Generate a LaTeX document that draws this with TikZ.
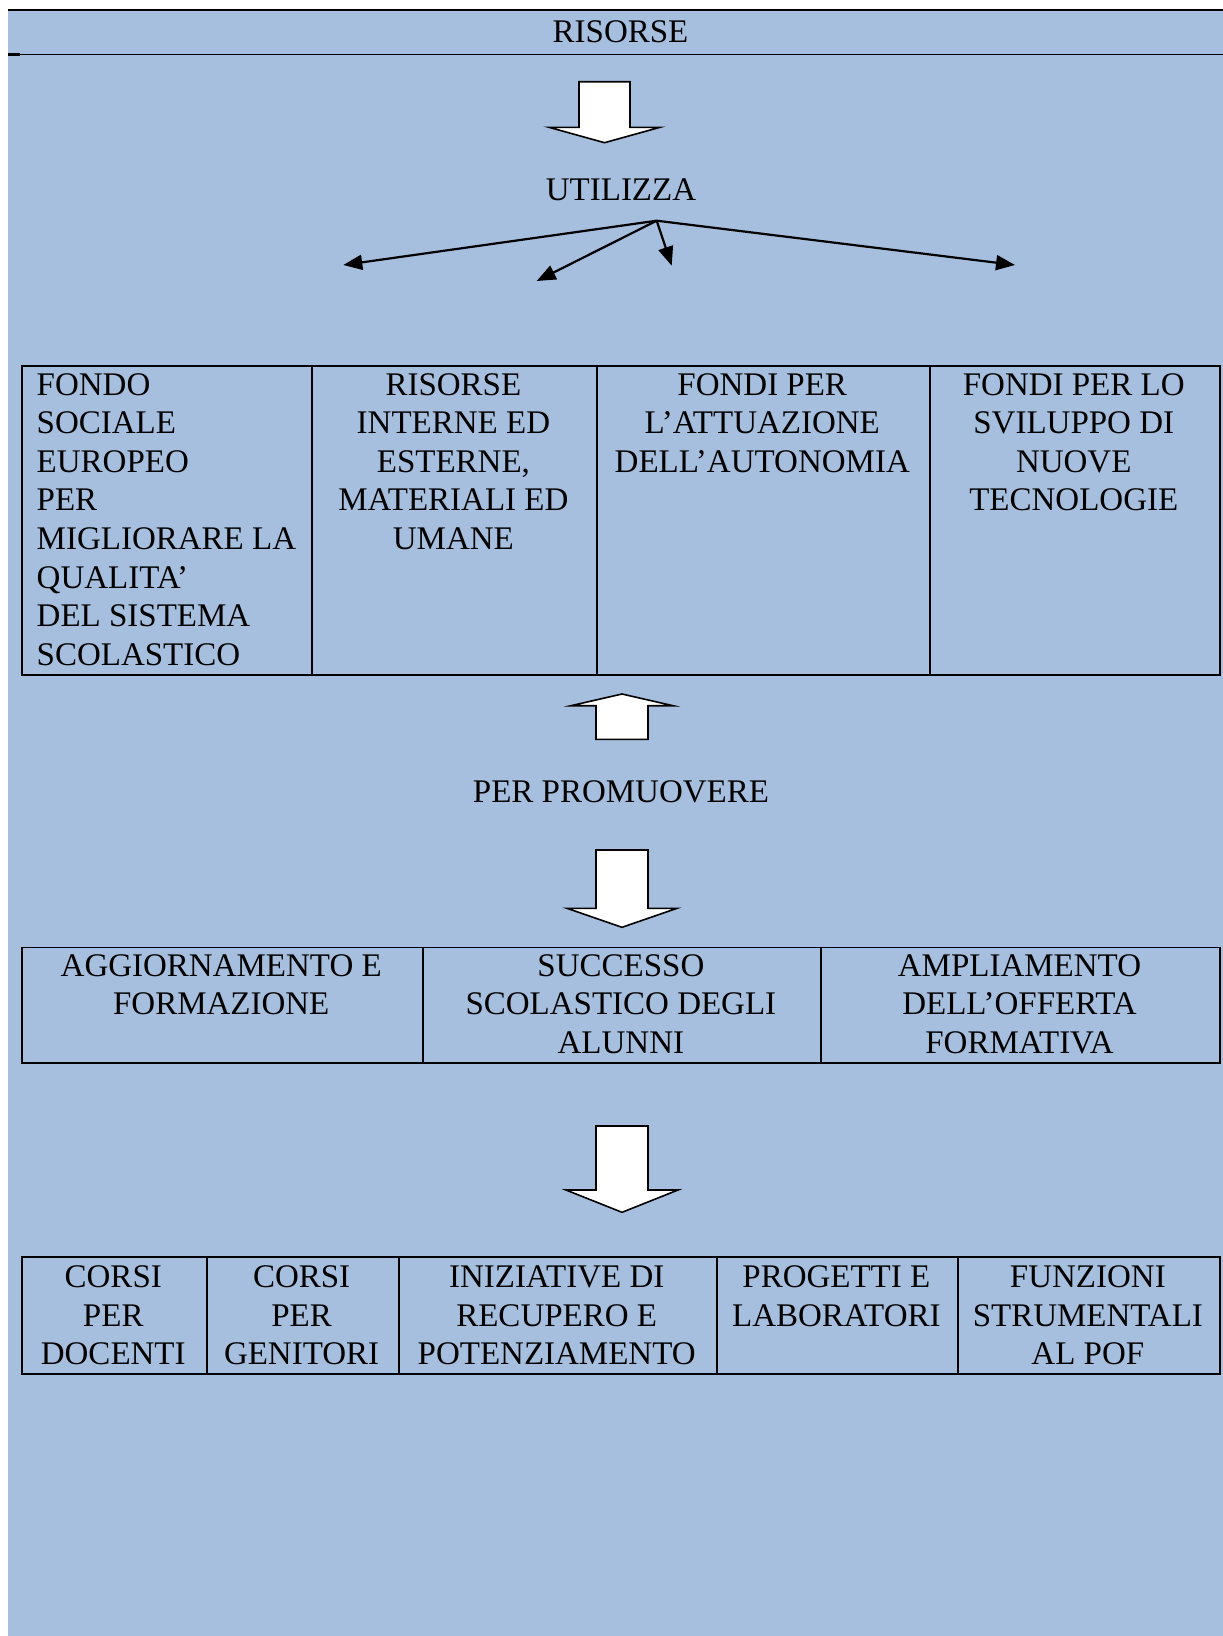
\documentclass[tikz,border=0pt]{standalone}
\usepackage{fontspec}
\setmainfont{Liberation Serif}
\usetikzlibrary{arrows.meta}
\definecolor{bgblue}{RGB}{166,191,222}
\begin{document}
\begin{tikzpicture}[x=1pt,y=-1pt,
  every node/.style={font=\fontsize{33}{38.6}\selectfont, inner sep=0pt, text=black},
  cell/.style={draw=black, line width=1.9pt, anchor=north west, minimum height=#1},
  txt/.style={anchor=north, align=center},
  txtl/.style={anchor=north west, align=left},
  label/.style={anchor=center},
  blockarrow/.style={draw=black, fill=white, line width=1.6pt, line join=miter},
  fanarrow/.style={draw=black, line width=2.2pt, -{Triangle[length=19pt,width=15pt]}}
]
\useasboundingbox (0,0) rectangle (1223,1636);
\fill[white] (0,0) rectangle (1223,1636);
\fill[bgblue] (8.3,9.4) rectangle (1223,1636);
\draw[line width=2.2pt] (8.3,10.2) -- (1223,10.2);
\draw[line width=1.6pt] (8.3,54.3) -- (1223,54.3);
\draw[line width=3pt] (8.3,54.3) -- (20,54.3);

% headings
\node[label] (risorse) at (620.5,31.3) {RISORSE};
\node[label] (utilizza) at (621,190) {UTILIZZA};
\node[label] (promuovere) at (621,791.5) {PER PROMUOVERE};

% block arrows
\draw[blockarrow] (579,81.7) -- (630,81.7) -- (630,127.3) -- (660,127.3) -- (604.5,142.7) -- (549,127.3) -- (579,127.3) -- cycle;
\draw[blockarrow] (596,739.3) -- (648,739.3) -- (648,705.7) -- (673,705.7) -- (622,694) -- (571,705.7) -- (596,705.7) -- cycle;
\draw[blockarrow] (596,850) -- (648,850) -- (648,908.3) -- (677,908.3) -- (622,927.3) -- (567,908.3) -- (596,908.3) -- cycle;
\draw[blockarrow] (596,1126) -- (648,1126) -- (648,1190) -- (678,1190) -- (622,1212.3) -- (566,1190) -- (596,1190) -- cycle;

% fan of arrows
\coordinate (fan) at (656.7,220.7);
\coordinate (f1) at (343.3,265);
\coordinate (f2) at (536.7,281);
\coordinate (f3) at (671.7,265.7);
\coordinate (f4) at (1015,265);
\draw[fanarrow] (fan) -- (f1);
\draw[fanarrow] (fan) -- (f2);
\draw[fanarrow] (fan) -- (f3);
\draw[fanarrow] (fan) -- (f4);

% table 1
\node[cell=308.9pt, minimum width=290.1pt] (a1) at (20.9,365.2) {};
\node[cell=308.9pt, minimum width=284.8pt] (a2) at (311,365.2) {};
\node[cell=308.9pt, minimum width=332.9pt] (a3) at (595.8,365.2) {};
\node[cell=308.9pt, minimum width=290.1pt] (a4) at (928.7,365.2) {};
\node[txtl] (ta1) at (36.5,373) {FONDO\\SOCIALE\\EUROPEO\\PER\\MIGLIORARE LA\\QUALITA’\\DEL SISTEMA\\SCOLASTICO};
\node[txt] (ta2) at (453.4,373) {RISORSE\\INTERNE ED\\ESTERNE,\\MATERIALI ED\\UMANE};
\node[txt] (ta3) at (762.25,373) {FONDI PER\\L’ATTUAZIONE\\DELL’AUTONOMIA};
\node[txt] (ta4) at (1073.75,373) {FONDI PER LO\\SVILUPPO DI\\NUOVE\\TECNOLOGIE};

% table 2
\node[cell=115.8pt, minimum width=400.7pt] (b1) at (20.9,946.5) {};
\node[cell=115.8pt, minimum width=398.6pt] (b2) at (421.6,946.5) {};
\node[cell=115.8pt, minimum width=398.6pt] (b3) at (820.2,946.5) {};
\node[txt] (tb1) at (221.25,954.2) {AGGIORNAMENTO E\\FORMAZIONE};
\node[txt] (tb2) at (620.9,954.2) {SUCCESSO\\SCOLASTICO DEGLI\\ALUNNI};
\node[txt] (tb3) at (1019.5,954.2) {AMPLIAMENTO\\DELL’OFFERTA\\FORMATIVA};

% table 3
\node[cell=116.8pt, minimum width=184.7pt] (c1) at (20.9,1256.4) {};
\node[cell=116.8pt, minimum width=192pt] (c2) at (205.6,1256.4) {};
\node[cell=116.8pt, minimum width=318.2pt] (c3) at (397.6,1256.4) {};
\node[cell=116.8pt, minimum width=241.1pt] (c4) at (715.8,1256.4) {};
\node[cell=116.8pt, minimum width=261.9pt] (c5) at (956.9,1256.4) {};
\node[txt] (tc1) at (113.25,1265.5) {CORSI\\PER\\DOCENTI};
\node[txt] (tc2) at (301.6,1265.5) {CORSI\\PER\\GENITORI};
\node[txt] (tc3) at (556.7,1265.5) {INIZIATIVE DI\\RECUPERO E\\POTENZIAMENTO};
\node[txt] (tc4) at (836.35,1265.5) {PROGETTI E\\LABORATORI};
\node[txt] (tc5) at (1087.85,1265.5) {FUNZIONI\\STRUMENTALI\\AL POF};
\end{tikzpicture}
\end{document}
